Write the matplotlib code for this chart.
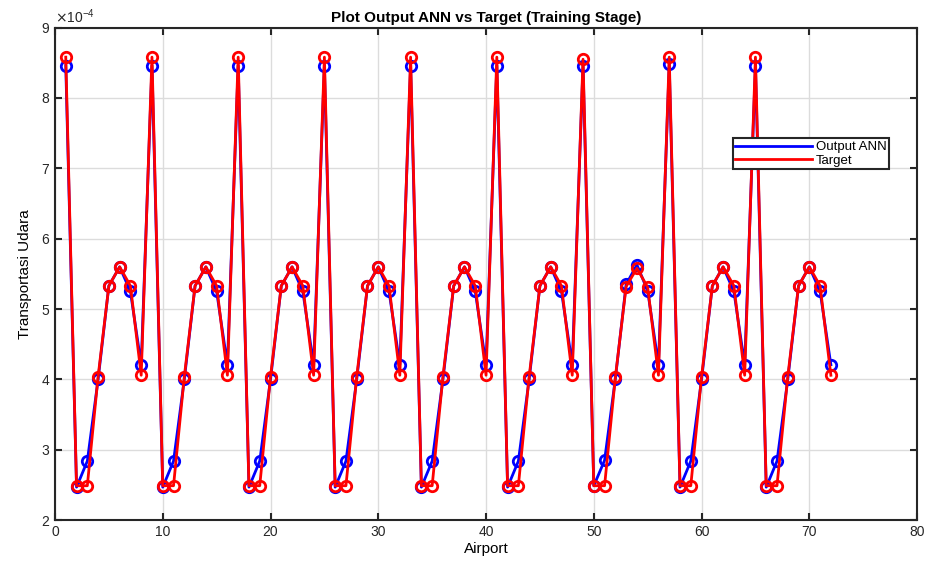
import numpy as np
import matplotlib
matplotlib.use("Agg")
import matplotlib.pyplot as plt
from matplotlib.lines import Line2D
from matplotlib.ticker import ScalarFormatter

plt.rcParams['font.family'] = ['Liberation Sans', 'DejaVu Sans']

# values in units of 1e-4
target = [8.58, 2.49, 2.49, 4.04, 5.33, 5.60, 5.33, 4.06,
          8.58, 2.49, 2.49, 4.04, 5.33, 5.60, 5.33, 4.06,
          8.58, 2.49, 2.49, 4.04, 5.33, 5.60, 5.33, 4.06,
          8.58, 2.49, 2.49, 4.04, 5.33, 5.60, 5.33, 4.06,
          8.58, 2.49, 2.49, 4.04, 5.33, 5.60, 5.33, 4.06,
          8.58, 2.49, 2.49, 4.04, 5.33, 5.60, 5.33, 4.06,
          8.55, 2.49, 2.49, 4.03, 5.32, 5.58, 5.31, 4.06,
          8.58, 2.49, 2.49, 4.04, 5.33, 5.60, 5.33, 4.06,
          8.58, 2.49, 2.49, 4.04, 5.33, 5.60, 5.33, 4.06]
output_ann = [8.46, 2.47, 2.84, 4.00, 5.33, 5.60, 5.25, 4.21,
              8.46, 2.47, 2.84, 4.00, 5.33, 5.60, 5.25, 4.21,
              8.46, 2.47, 2.84, 4.00, 5.33, 5.60, 5.25, 4.21,
              8.46, 2.47, 2.84, 4.00, 5.33, 5.60, 5.25, 4.21,
              8.46, 2.47, 2.84, 4.00, 5.33, 5.60, 5.25, 4.21,
              8.46, 2.47, 2.84, 4.00, 5.33, 5.60, 5.25, 4.21,
              8.46, 2.49, 2.85, 4.01, 5.35, 5.63, 5.26, 4.21,
              8.48, 2.47, 2.84, 4.00, 5.33, 5.60, 5.25, 4.21,
              8.46, 2.47, 2.84, 4.00, 5.33, 5.60, 5.25, 4.21]
airport = np.arange(1, len(target) + 1)

target = np.array(target) * 1e-4
output_ann = np.array(output_ann) * 1e-4

fig = plt.figure(figsize=(9.32, 5.63), dpi=100)
ax = fig.add_axes([0.059, 0.076, 0.925, 0.875])

ax.plot(airport, output_ann, '-o', color='#0000ff', lw=2, ms=7.5, mew=2,
        mfc='none')
ax.plot(airport, target, '-o', color='#ff0000', lw=2, ms=7.5, mew=2,
        mfc='none')

ax.set_xlim(0, 80)
ax.set_ylim(2e-4, 9e-4)
ax.set_xticks(range(0, 81, 10))
ax.set_yticks(np.arange(2, 10) * 1e-4)

fmt = ScalarFormatter(useMathText=True)
fmt.set_powerlimits((-3, 3))
ax.yaxis.set_major_formatter(fmt)
ax.yaxis.get_offset_text().set_fontsize(10)
ax.yaxis.get_offset_text().set_color('#262626')

ax.grid(True, color='#dcdcdc', lw=1)
ax.set_axisbelow(True)
ax.tick_params(direction='in', top=True, right=True, length=5, width=1.5,
               labelsize=10, colors='#262626')
for s in ax.spines.values():
    s.set_linewidth(1.5)
    s.set_color('#262626')

ax.set_title('Plot Output ANN vs Target (Training Stage)', fontsize=11,
             fontweight='bold', pad=4)
ax.set_xlabel('Airport', fontsize=11, labelpad=2)
ax.set_ylabel('Transportasi Udara', fontsize=11, labelpad=6)

handles = [Line2D([], [], color='#0000ff', lw=2),
           Line2D([], [], color='#ff0000', lw=2)]
leg = ax.legend(handles, ['Output ANN', 'Target'], loc='upper left',
                bbox_to_anchor=(0.786, 0.775), fontsize=9.5,
                fancybox=False, edgecolor='#262626', framealpha=1,
                handlelength=5.8, borderpad=0.2, labelspacing=0.1,
                handletextpad=0.3, borderaxespad=0)
leg.get_frame().set_linewidth(1.5)

fig.savefig('out.png', dpi=100)
